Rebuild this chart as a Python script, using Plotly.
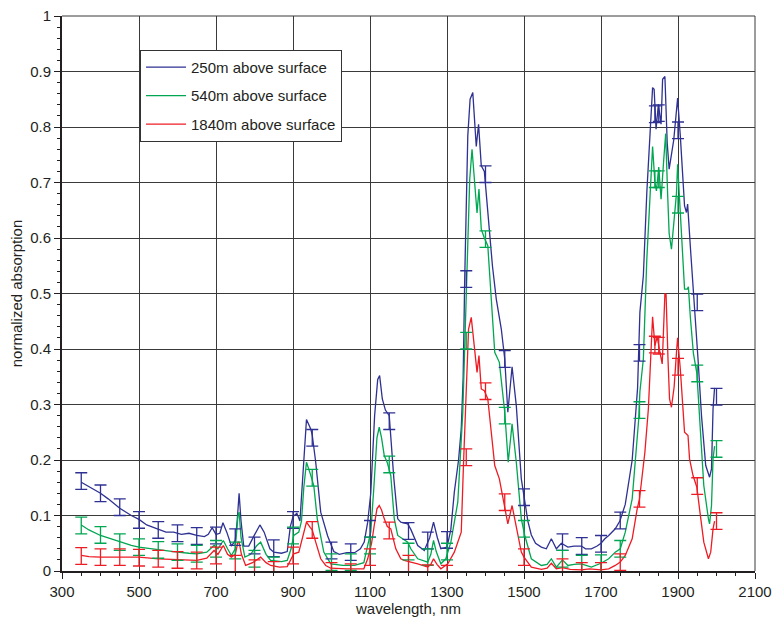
import plotly.graph_objects as go

# ---- curve data (wavelength nm, normalized absorption) ----
wl_250 = [350, 370, 400, 420, 450, 480, 500, 520, 550, 570, 590, 610, 630, 650, 670, 680, 690, 700, 710, 718, 728,
          740, 750, 755, 760, 765, 772, 785, 800, 814, 825, 840, 850, 870, 885, 893, 900, 910, 918, 925, 935, 946,
          950, 959, 972, 990, 1006, 1020, 1040, 1060, 1075, 1085, 1094, 1102, 1112, 1120, 1125, 1132, 1140, 1150,
          1162, 1172, 1180, 1198, 1206, 1224, 1241, 1255, 1265, 1275, 1284, 1300, 1310, 1319, 1330, 1337, 1342,
          1346, 1354, 1360, 1367, 1376, 1382, 1389, 1397, 1406, 1418, 1428, 1441, 1450, 1458, 1469, 1480, 1493,
          1500, 1510, 1519, 1530, 1545, 1558, 1571, 1584, 1597, 1614, 1630, 1649, 1660, 1675, 1690, 1700, 1710,
          1720, 1737, 1749, 1763, 1775, 1781, 1789, 1795, 1801, 1810, 1819, 1827, 1834, 1838, 1843, 1849, 1856,
          1860, 1866, 1872, 1877, 1889, 1896, 1899, 1906, 1917, 1922, 1925, 1932, 1940, 1952, 1961, 1972, 1982,
          1987, 1991, 1995]
ab_250 = [0.16, 0.152, 0.14, 0.13, 0.113, 0.1, 0.093, 0.083, 0.075, 0.07, 0.07, 0.066, 0.068, 0.064, 0.062, 0.066,
          0.078, 0.066, 0.068, 0.087, 0.07, 0.045, 0.055, 0.09, 0.14, 0.09, 0.045, 0.045, 0.065, 0.083, 0.07, 0.04,
          0.034, 0.032, 0.035, 0.08, 0.098, 0.104, 0.09, 0.17, 0.273, 0.256, 0.245, 0.196, 0.106, 0.063, 0.035,
          0.03, 0.033, 0.033, 0.04, 0.052, 0.088, 0.14, 0.28, 0.345, 0.352, 0.31, 0.29, 0.28, 0.166, 0.094, 0.088,
          0.085, 0.075, 0.046, 0.037, 0.06, 0.088, 0.06, 0.04, 0.043, 0.075, 0.142, 0.2, 0.256, 0.35, 0.526, 0.784,
          0.85, 0.862, 0.765, 0.805, 0.73, 0.72, 0.647, 0.55, 0.49, 0.436, 0.382, 0.286, 0.368, 0.298, 0.166,
          0.133, 0.09, 0.065, 0.05, 0.043, 0.04, 0.058, 0.04, 0.05, 0.043, 0.045, 0.045, 0.04, 0.04, 0.045, 0.05,
          0.058, 0.064, 0.076, 0.09, 0.12, 0.17, 0.2, 0.274, 0.33, 0.466, 0.532, 0.682, 0.784, 0.871, 0.868,
          0.796, 0.841, 0.805, 0.886, 0.891, 0.771, 0.724, 0.777, 0.832, 0.852, 0.784, 0.658, 0.646, 0.661,
          0.585, 0.507, 0.382, 0.28, 0.19, 0.169, 0.184, 0.292, 0.33]

wl_540 = [350, 370, 400, 430, 450, 480, 500, 530, 550, 580, 600, 630, 650, 676, 695, 705, 719, 730, 740, 750, 757,
          760, 765, 775, 790, 805, 816, 830, 842, 870, 885, 895, 902, 915, 922, 928, 935, 945, 954, 963, 972, 980,
          998, 1030, 1060, 1084, 1094, 1102, 1110, 1118, 1124, 1130, 1137, 1145, 1154, 1163, 1172, 1190, 1198,
          1206, 1224, 1250, 1258, 1265, 1272, 1284, 1297, 1310, 1328, 1341, 1346, 1352, 1359, 1365, 1372, 1378,
          1383, 1389, 1397, 1406, 1415, 1424, 1436, 1450, 1459, 1469, 1480, 1493, 1502, 1519, 1545, 1560, 1571,
          1584, 1600, 1614, 1630, 1649, 1675, 1700, 1720, 1737, 1750, 1763, 1781, 1794, 1798, 1801, 1810, 1819,
          1827, 1834, 1840, 1844, 1850, 1856, 1863, 1868, 1873, 1877, 1883, 1890, 1896, 1899, 1906, 1917, 1924,
          1927, 1932, 1940, 1949, 1957, 1967, 1979, 1982, 1987, 1991, 1995]
ab_540 = [0.083, 0.074, 0.064, 0.057, 0.052, 0.046, 0.043, 0.04, 0.038, 0.035, 0.034, 0.032, 0.031, 0.034, 0.046,
          0.04, 0.055, 0.04, 0.028, 0.04, 0.1, 0.106, 0.06, 0.025, 0.03, 0.045, 0.052, 0.03, 0.019, 0.017, 0.019,
          0.04, 0.064, 0.07, 0.09, 0.15, 0.196, 0.175, 0.154, 0.094, 0.06, 0.034, 0.013, 0.01, 0.01, 0.015, 0.046,
          0.07, 0.15, 0.24, 0.259, 0.24, 0.208, 0.195, 0.172, 0.094, 0.064, 0.055, 0.052, 0.04, 0.022, 0.016,
          0.03, 0.055, 0.035, 0.013, 0.022, 0.052, 0.124, 0.286, 0.415, 0.526, 0.706, 0.76, 0.706, 0.645, 0.688,
          0.616, 0.6, 0.586, 0.49, 0.394, 0.376, 0.286, 0.196, 0.265, 0.196, 0.094, 0.064, 0.022, 0.01, 0.012,
          0.022, 0.007, 0.02, 0.01, 0.012, 0.013, 0.007, 0.014, 0.022, 0.034, 0.04, 0.07, 0.13, 0.238, 0.274,
          0.323, 0.382, 0.562, 0.682, 0.765, 0.7, 0.685, 0.728, 0.67, 0.742, 0.788, 0.68, 0.608, 0.58, 0.634,
          0.68, 0.733, 0.652, 0.508, 0.508, 0.512, 0.458, 0.392, 0.356, 0.26, 0.154, 0.094, 0.085, 0.118, 0.202,
          0.225]

wl_1840 = [350, 370, 400, 450, 500, 550, 600, 650, 676, 695, 705, 719, 730, 740, 750, 757, 760, 766, 777, 795, 816,
           830, 842, 865, 885, 895, 902, 915, 925, 935, 945, 950, 959, 972, 985, 998, 1040, 1084, 1094, 1104, 1111,
           1118, 1124, 1130, 1137, 1145, 1154, 1167, 1180, 1189, 1206, 1224, 1250, 1258, 1265, 1274, 1284, 1302,
           1319, 1337, 1343, 1350, 1356, 1363, 1370, 1378, 1383, 1389, 1397, 1406, 1415, 1424, 1436, 1447, 1458,
           1469, 1480, 1493, 1500, 1519, 1545, 1560, 1571, 1584, 1600, 1620, 1650, 1670, 1700, 1720, 1737, 1750,
           1763, 1781, 1794, 1800, 1805, 1814, 1823, 1828, 1834, 1840, 1846, 1852, 1859, 1866, 1869, 1874, 1878,
           1883, 1890, 1896, 1899, 1906, 1917, 1926, 1930, 1939, 1949, 1957, 1967, 1979, 1985, 1991, 1995]
ab_1840 = [0.028, 0.026, 0.025, 0.025, 0.025, 0.022, 0.02, 0.019, 0.023, 0.037, 0.03, 0.046, 0.03, 0.025, 0.03,
           0.052, 0.052, 0.03, 0.01, 0.015, 0.025, 0.015, 0.01, 0.007, 0.008, 0.02, 0.031, 0.034, 0.06, 0.088,
           0.078, 0.074, 0.052, 0.022, 0.01, 0.005, 0.004, 0.004, 0.022, 0.05, 0.082, 0.112, 0.118, 0.11, 0.094,
           0.08, 0.076, 0.04, 0.022, 0.019, 0.016, 0.013, 0.007, 0.012, 0.022, 0.012, 0.004, 0.013, 0.034, 0.07,
           0.196, 0.316, 0.436, 0.457, 0.406, 0.358, 0.388, 0.328, 0.325, 0.31, 0.25, 0.19, 0.166, 0.124, 0.085,
           0.118, 0.082, 0.034, 0.025, 0.007, 0.003, 0.005, 0.014, 0.004, 0.006, 0.003, 0.002, 0.004, 0.002,
           0.004, 0.01, 0.016, 0.028, 0.058, 0.112, 0.13, 0.16, 0.214, 0.292, 0.382, 0.458, 0.406, 0.422, 0.398,
           0.373, 0.5, 0.498, 0.382, 0.31, 0.295, 0.332, 0.393, 0.42, 0.364, 0.25, 0.244, 0.202, 0.172, 0.151,
           0.106, 0.052, 0.022, 0.034, 0.076, 0.09]

# ---- error bar positions and centre values ----
err_wl = [350, 400, 450, 500, 550, 600, 650, 700, 750, 800, 850, 900, 950, 1000, 1050, 1100, 1150, 1200, 1250,
          1300, 1350, 1400, 1450, 1500, 1600, 1650, 1700, 1750, 1800, 1840, 1850, 1900, 1950, 2000]
err_250 = [0.162, 0.14, 0.115, 0.092, 0.074, 0.068, 0.063, 0.064, 0.061, 0.046, 0.041, 0.092, 0.24, 0.037, 0.034,
           0.076, 0.27, 0.072, 0.055, 0.056, 0.526, 0.715, 0.382, 0.133, 0.052, 0.045, 0.049, 0.091, 0.393, 0.823,
           0.825, 0.794, 0.484, 0.314]
err_540 = [0.082, 0.065, 0.052, 0.043, 0.038, 0.034, 0.031, 0.04, 0.037, 0.022, 0.01, 0.064, 0.168, 0.016, 0.016,
           0.046, 0.192, 0.035, 0.025, 0.035, 0.415, 0.598, 0.28, 0.076, 0.022, 0.013, 0.014, 0.04, 0.29, 0.706,
           0.706, 0.66, 0.356, 0.22]
err_1840 = [0.027, 0.025, 0.025, 0.024, 0.022, 0.02, 0.019, 0.028, 0.013, 0.005, 0.002, 0.028, 0.074, 0.0, -0.002,
            0.025, 0.073, 0.013, -0.004, -0.005, 0.205, 0.324, 0.124, 0.025, 0.007, 0.0, 0.0, 0.016, 0.13, 0.408,
            0.406, 0.368, 0.153, 0.09]
err_size = 0.015

names = ["250m above surface", "540m above surface", "1840m above surface"]
colors = ["#2E3192", "#00A651", "#ED1C24"]

fig = go.Figure()
series = [(wl_250, ab_250, err_250), (wl_540, ab_540, err_540), (wl_1840, ab_1840, err_1840)]
for i, (wx, wy, ey) in enumerate(series):
    fig.add_trace(go.Scatter(x=wx, y=wy, mode="lines", name=names[i],
                             line=dict(color=colors[i], width=1.3),
                             legendgroup="g%d" % i))
for i, (wx, wy, ey) in enumerate(series):
    fig.add_trace(go.Scatter(x=err_wl, y=ey, mode="markers", showlegend=False,
                             marker=dict(size=1, color=colors[i], opacity=0),
                             error_y=dict(type="constant", value=err_size, color=colors[i],
                                          thickness=1.3, width=6),
                             cliponaxis=False))

font_family = "Liberation Sans, Arial, Helvetica, sans-serif"

fig.update_layout(
    width=773, height=617,
    margin=dict(l=62, r=18, t=16, b=46, autoexpand=False),
    paper_bgcolor="white", plot_bgcolor="white",
    font=dict(family=font_family, size=15, color="#231F20"),
    showlegend=True,
    legend=dict(x=0.1126, y=0.939, xanchor="left", yanchor="top",
                bgcolor="white", bordercolor="#333333", borderwidth=1,
                font=dict(size=15, color="#231F20"), tracegroupgap=6,
                traceorder="grouped", itemwidth=40,
                entrywidth=200, entrywidthmode="pixels"),
    xaxis=dict(range=[300, 2100], tick0=300, dtick=200, showgrid=True, automargin=False,
               gridcolor="#3a3a3a", gridwidth=1,
               showline=True, linecolor="#231F20", linewidth=2,
               ticks="outside", ticklen=6, tickwidth=1.2, tickcolor="#231F20",
               minor=dict(dtick=50, ticks="outside", ticklen=3, tickcolor="#231F20", showgrid=False),
               zeroline=False,
               title=dict(text="wavelength, nm", font=dict(size=15), standoff=2),
               tickfont=dict(size=15)),
    yaxis=dict(range=[0, 1], tick0=0, dtick=0.1, showgrid=True, automargin=False,
               gridcolor="#3a3a3a", gridwidth=1,
               showline=True, linecolor="#231F20", linewidth=2,
               ticks="outside", ticklen=6, tickwidth=1.2, tickcolor="#231F20",
               minor=dict(dtick=0.02, ticks="outside", ticklen=3, tickcolor="#231F20", showgrid=False),
               zeroline=False,
               title=dict(text="normalized absorption", font=dict(size=15), standoff=4),
               tickfont=dict(size=15)),
)
# top and right frame lines
fig.add_shape(type="line", xref="paper", yref="paper", x0=0, x1=1, y0=1, y1=1,
              line=dict(color="#3a3a3a", width=1))
fig.add_shape(type="line", xref="paper", yref="paper", x0=1, x1=1, y0=0, y1=1,
              line=dict(color="#3a3a3a", width=1))

fig.write_html("out.html")
